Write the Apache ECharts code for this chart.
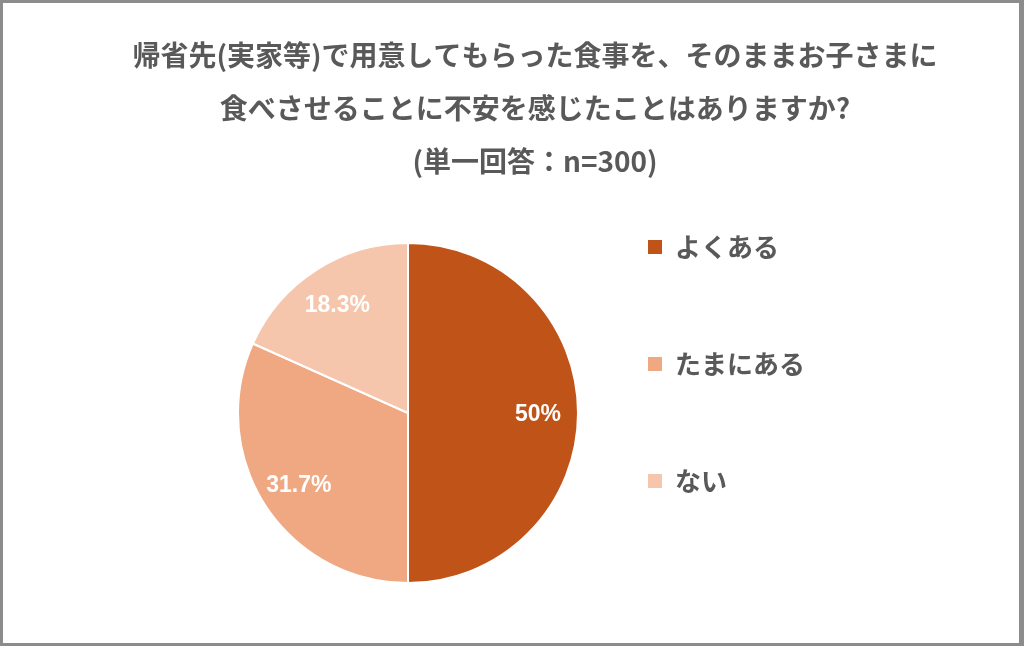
<!DOCTYPE html>
<html lang="ja">
<head>
<meta charset="UTF-8">
<title>帰省先の食事に関するアンケート</title>
<script src="https://cdn.jsdelivr.net/npm/echarts@6/dist/echarts.min.js"></script>
<style>
  html, body { margin: 0; padding: 0; background: #fff; }
  #frame {
    width: 1024px; height: 646px;
    box-sizing: border-box;
    border: 3px solid #8c8c8c;
    border-right-width: 5px;
  }
  #chart { width: 100%; height: 100%; }
</style>
</head>
<body>
<div id="frame"><div id="chart"></div></div>
<script>
// 回答の区分と割合(%)
var categories = ['よくある', 'たまにある', 'ない'];
var percents = [50, 31.7, 18.3];
var colors = ['#bf5318', '#f0a882', '#f5c6ac'];

var titleLines = [
  '帰省先(実家等)で用意してもらった食事を、そのままお子さまに',
  '食べさせることに不安を感じたことはありますか?',
  '(単一回答：n=300)'
];

var pieData = [];
for (var i = 0; i < categories.length; i++) {
  pieData.push({ name: categories[i], value: percents[i] });
}

var chart = echarts.init(document.getElementById('chart'));

var option = {
  color: colors,
  animation: false,
  title: {
    text: titleLines.join('\n'),
    left: 532,
    top: 26,
    textAlign: 'center',
    padding: 0,
    textStyle: {
      fontFamily: '"Noto Sans CJK JP", sans-serif',
      fontSize: 28,
      fontWeight: 'bold',
      color: '#595959',
      lineHeight: 53
    }
  },
  legend: {
    orient: 'vertical',
    left: 638,
    top: 226,
    itemWidth: 16,
    itemHeight: 16,
    itemGap: 91,
    icon: 'rect',
    selectedMode: false,
    textStyle: {
      fontFamily: '"Noto Sans CJK JP", sans-serif',
      fontSize: 26,
      fontWeight: 'bold',
      color: '#595959',
      lineHeight: 26,
      padding: [0, 0, 0, 7]
    },
    data: categories
  },
  series: [
    {
      // 本体の円グラフ
      type: 'pie',
      center: [405, 410],
      radius: [0, 170],
      startAngle: 90,
      clockwise: true,
      silent: true,
      itemStyle: { borderColor: '#fff', borderWidth: 2 },
      label: { show: false },
      labelLine: { show: false },
      data: pieData
    },
    {
      // ラベル位置用の透明な円環
      type: 'pie',
      center: [405, 412],
      radius: [84, 170],
      startAngle: 90,
      clockwise: true,
      silent: true,
      legendHoverLink: false,
      itemStyle: { color: 'rgba(0,0,0,0)' },
      label: {
        show: true,
        position: 'inside',
        formatter: '{c}%',
        fontFamily: 'Arial, "Liberation Sans", sans-serif',
        fontSize: 23,
        fontWeight: 'bold',
        color: '#fff'
      },
      labelLine: { show: false },
      data: pieData
    }
  ]
};

chart.setOption(option);
</script>
</body>
</html>
